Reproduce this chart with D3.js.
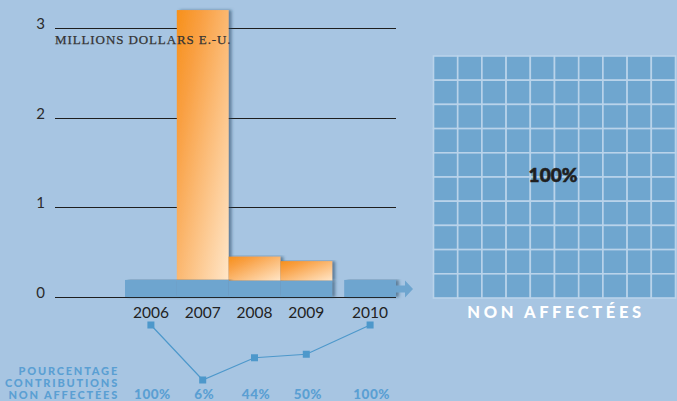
<!DOCTYPE html>
<html><head><meta charset="utf-8">
<script src="https://cdn.jsdelivr.net/npm/d3@7"></script>
<style>
html,body{margin:0;padding:0;background:#a7c5e2;}
svg{display:block;}
</style></head>
<body>
<script>
// ---- data ----
const years = ["2006", "2007", "2008", "2009", "2010"];
const nonAffected = [0.19, 0.19, 0.18, 0.18, 0.19];   // millions USD (blue)
const affected = [0, 3.01, 0.27, 0.22, 0];            // millions USD (orange)
const pctNonAffected = [100, 6, 44, 50, 100];
const yTicks = [0, 1, 2, 3];
const unitLabel = "MILLIONS DOLLARS E.-U.";
const leftLabel = ["POURCENTAGE", "CONTRIBUTIONS", "NON AFFECTÉES"];
const waffleValue = 100;
const waffleLabel = "100%";
const waffleCaption = "NON AFFECTÉES";

const W = 677, H = 401;
const svg = d3.select("body").append("svg").attr("width", W).attr("height", H);

const defs = svg.append("defs");
const grad = defs.append("linearGradient").attr("id", "og")
  .attr("x1", 0).attr("y1", 0).attr("x2", 1).attr("y2", 1);
grad.append("stop").attr("offset", "0%").attr("stop-color", "#f7901a");
grad.append("stop").attr("offset", "25%").attr("stop-color", "#f9a043");
grad.append("stop").attr("offset", "100%").attr("stop-color", "#ffe6c8");
const f = defs.append("filter").attr("id", "sh").attr("x", "-20%").attr("y", "-5%").attr("width", "160%").attr("height", "120%");
f.append("feDropShadow").attr("dx", 3).attr("dy", 0).attr("stdDeviation", 1.6)
  .attr("flood-color", "#24425f").attr("flood-opacity", 0.55);

// ---- scales ----
const band = d3.scaleBand().domain(years).range([125, 384]).padding(0);
const lastGap = 12;
const x = d => band(d) + (d === years[years.length - 1] ? lastGap : 0);
const bw = band.bandwidth();
const y = d3.scaleLinear().domain([0, 3]).range([297, 28]);
const yp = d3.scaleLinear().domain([0, 100]).range([383.5, 325]);

// gridlines
const gx0 = 55, gx1 = x(years[4]) + bw;
svg.append("g").selectAll("line").data(yTicks).join("line")
  .attr("x1", gx0).attr("x2", gx1)
  .attr("y1", d => Math.round(y(d)) + 0.5).attr("y2", d => Math.round(y(d)) + 0.5)
  .attr("stroke", "#1e1e1e").attr("stroke-width", 1.1);

svg.append("g").selectAll("text").data(yTicks).join("text")
  .attr("x", 45).attr("y", d => y(d) + 1)
  .attr("text-anchor", "end")
  .attr("font-family", "Lato, 'Open Sans', sans-serif").attr("font-size", 15)
  .attr("fill", "#2b2b2b").text(d => d);

// bars
const rows = years.map((yr, i) => ({ yr, na: nonAffected[i], af: affected[i] }));
const bars = svg.append("g");
// orange (affected) stacked on top of blue
bars.selectAll("rect.af").data(rows.filter(d => d.af > 0)).join("rect")
  .attr("class", "af")
  .attr("x", d => x(d.yr)).attr("width", bw)
  .attr("y", d => y(d.na + d.af)).attr("height", d => y(d.na) - y(d.na + d.af))
  .attr("fill", "url(#og)").attr("filter", "url(#sh)");
bars.selectAll("rect.na").data(rows).join("rect")
  .attr("class", "na")
  .attr("x", d => x(d.yr)).attr("width", bw)
  .attr("y", d => y(d.na)).attr("height", d => y(0) - y(d.na))
  .attr("fill", "#6ea5cf").attr("filter", "url(#sh)");

// unit label drawn over the bars
svg.append("text").attr("x", 55).attr("y", 44)
  .attr("font-family", "'Liberation Serif', 'DejaVu Serif', serif")
  .attr("font-size", 13).attr("letter-spacing", 0.9)
  .attr("fill", "#333").attr("stroke", "#333").attr("stroke-width", 0.25)
  .text(unitLabel);

// arrow after last bar
const ax = x(years[4]) + bw, ay = y(0) - 8;
svg.append("path")
  .attr("d", `M${ax},${ay - 3.5} L${ax + 9},${ay - 3.5} L${ax + 9},${ay - 8.5} L${ax + 17},${ay} L${ax + 9},${ay + 8.5} L${ax + 9},${ay + 3.5} L${ax},${ay + 3.5} Z`)
  .attr("fill", "#6ea5cf");

// year labels
svg.append("g").selectAll("text").data(years).join("text")
  .attr("x", d => x(d) + bw / 2).attr("y", 318)
  .attr("text-anchor", "middle")
  .attr("font-family", "Lato, 'Open Sans', sans-serif").attr("font-size", 15.5)
  .attr("fill", "#222").text(d => d);

// percentage line
const pts = years.map((yr, i) => ({ yr, p: pctNonAffected[i] }));
svg.append("path").datum(pts)
  .attr("d", d3.line().x(d => x(d.yr) + bw / 2).y(d => yp(d.p)))
  .attr("fill", "none").attr("stroke", "#4d98cb").attr("stroke-width", 1.2);
svg.append("g").selectAll("rect").data(pts).join("rect")
  .attr("x", d => x(d.yr) + bw / 2 - 3.5).attr("y", d => yp(d.p) - 3.5)
  .attr("width", 7).attr("height", 7).attr("fill", "#4d98cb");

svg.append("g").selectAll("text").data(pts).join("text")
  .attr("x", d => x(d.yr) + bw / 2 + 1.5).attr("y", 398.5)
  .attr("text-anchor", "middle")
  .attr("font-family", "Lato, sans-serif").attr("font-weight", 900).attr("font-size", 13.5)
  .attr("letter-spacing", 0.5)
  .attr("fill", "#5a9fd3").text(d => d.p + "%");

svg.append("g").selectAll("text").data(leftLabel).join("text")
  .attr("x", 119).attr("y", (d, i) => 375 + i * 12)
  .attr("text-anchor", "end")
  .attr("font-family", "Lato, sans-serif").attr("font-weight", 900).attr("font-size", 11)
  .attr("letter-spacing", 1.8)
  .attr("fill", "#5a9fd3").text(d => d);

// waffle
const wx = d3.scaleBand().domain(d3.range(10)).range([433.5, 675.5]).padding(0);
const wy = d3.scaleBand().domain(d3.range(10)).range([56, 298]).padding(0);
const cells = d3.range(100).map(i => ({ c: i % 10, r: Math.floor(i / 10), on: i < waffleValue }));
svg.append("g").selectAll("rect").data(cells).join("rect")
  .attr("x", d => wx(d.c)).attr("y", d => wy(d.r))
  .attr("width", wx.bandwidth()).attr("height", wy.bandwidth())
  .attr("fill", d => d.on ? "#6fa6cf" : "#a7c5e2")
  .attr("stroke", "#b9d3ea").attr("stroke-width", 1.6);

svg.append("text").attr("x", 553).attr("y", 182)
  .attr("text-anchor", "middle")
  .attr("font-family", "Lato, sans-serif").attr("font-weight", 900).attr("font-size", 19)
  .attr("fill", "#1f1f1f").attr("stroke", "#1f1f1f").attr("stroke-width", 0.6)
  .text(waffleLabel);

svg.append("text").attr("x", 556).attr("y", 318)
  .attr("text-anchor", "middle")
  .attr("font-family", "Lato, sans-serif").attr("font-weight", 900).attr("font-size", 16.5)
  .attr("letter-spacing", 3.6)
  .attr("fill", "#ffffff").text(waffleCaption);
</script>
</body></html>
